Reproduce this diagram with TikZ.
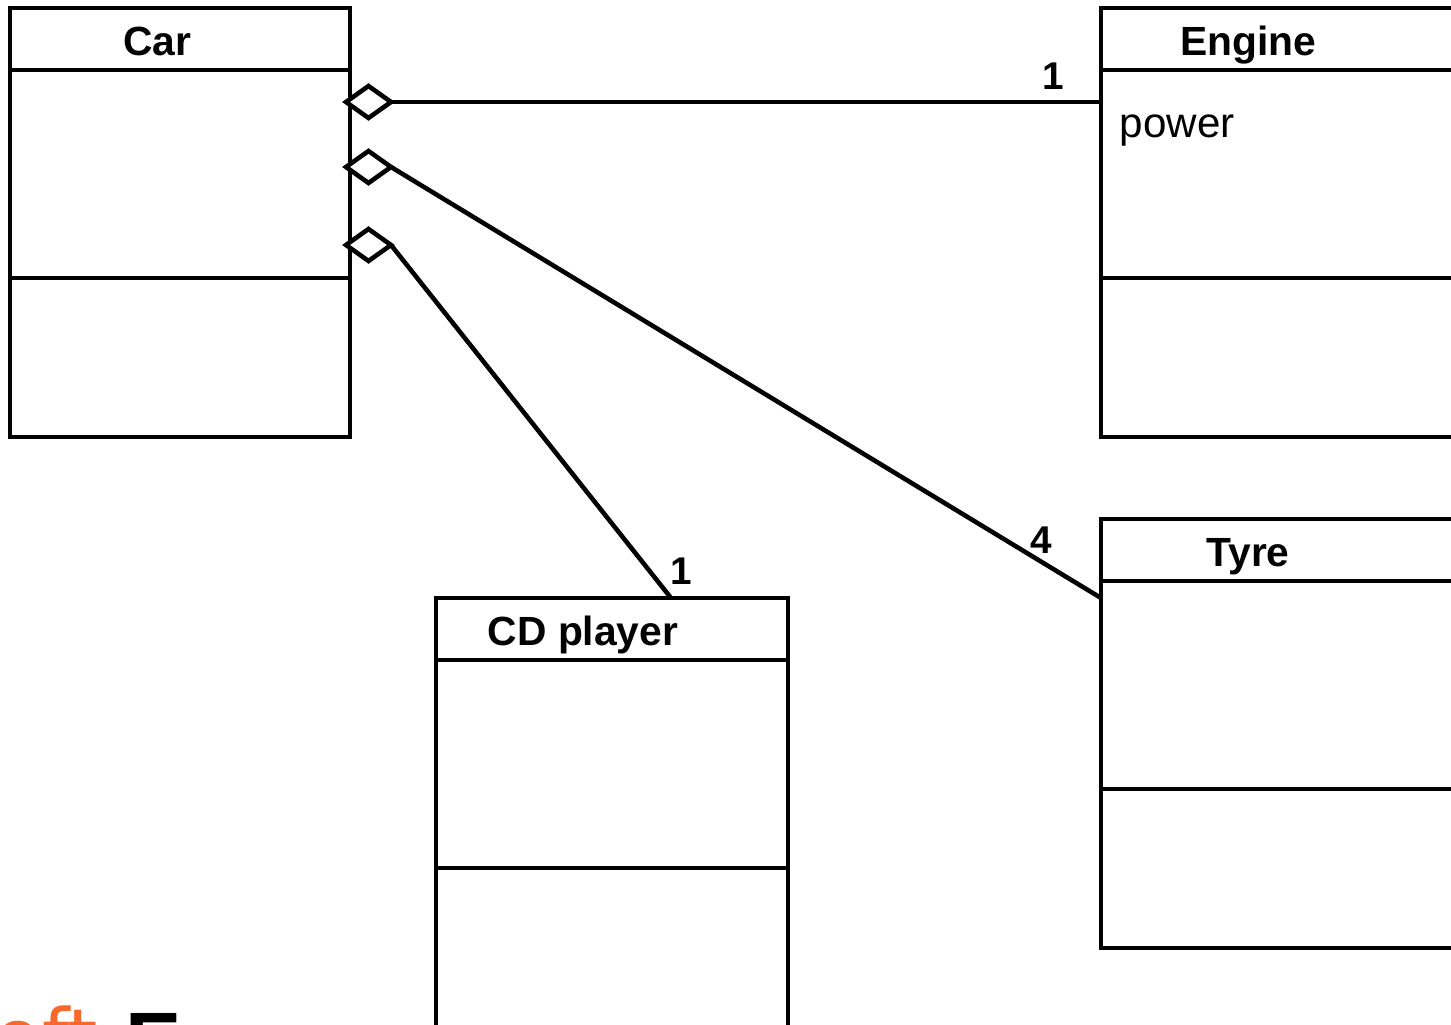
\documentclass[tikz,border=0pt]{standalone}
\usepackage{fontspec}
\setmainfont{Liberation Sans}
\newfontfamily\wmfont{DejaVu Sans}
\usetikzlibrary{positioning,shapes,calc}
\definecolor{wmorange}{RGB}{247,104,44}

\begin{document}
\begin{tikzpicture}[
  classbox/.style={draw, line width=1.1pt, minimum height=4.29cm, inner sep=0pt, outer sep=0pt},
  classtitle/.style={anchor=base, font=\bfseries\fontsize{11.6}{13}\selectfont},
  aggdiamond/.style={draw, fill=white, shape=diamond, line width=1.3pt, minimum width=0.45cm, minimum height=0.32cm, inner sep=0pt, outer sep=0pt},
  link/.style={line width=1.3pt},
  mult/.style={font=\bfseries\fontsize{11}{13}\selectfont, inner sep=0pt}
]
 \useasboundingbox (0,0) rectangle (14.51,10.24);

 %classes
 \foreach \name/\title/\x/\y/\w in {car/Car/0.10/10.16/3.40, engine/Engine/11.01/10.16/3.70, tyre/Tyre/11.01/5.05/3.70, cd/CD player/4.36/4.26/3.52} {
   \node[classbox, minimum width=\w cm, anchor=north west] (\name) at (\x,\y) {};
   \node[classtitle] (\name-title) at ([xshift=1.47cm, yshift=-0.48cm]\name.north west) {\title};
   \draw[line width=1.1pt] ([yshift=-0.62cm]\name.north west) -- ([yshift=-0.62cm]\name.north east);
   \draw[line width=1.1pt] ([yshift=-2.70cm]\name.north west) -- ([yshift=-2.70cm]\name.north east);
 }

 %attribute
 \node[anchor=base west, font=\fontsize{12}{14}\selectfont, inner sep=0pt] (engine-power) at ([xshift=0.18cm, yshift=-1.30cm]engine.north west) {power};

 %aggregations
 \node[aggdiamond, anchor=west] (d1) at ([xshift=-0.04cm, yshift=-0.94cm]car.north east) {};
 \node[aggdiamond, anchor=west] (d2) at ([xshift=-0.04cm, yshift=-1.59cm]car.north east) {};
 \node[aggdiamond, anchor=west] (d3) at ([xshift=-0.04cm, yshift=-2.37cm]car.north east) {};

 \draw[link] (d1.east) -- (d1.east -| engine.west);
 \draw[link] (d2.east) -- ([yshift=-0.79cm]tyre.north west);
 \draw[link] (d3.east) -- ([xshift=2.35cm]cd.north west);

 %multiplicities
 \node[mult] (m-engine) at ([xshift=-0.48cm, yshift=-0.68cm]engine.north west) {1};
 \node[mult] (m-tyre) at ([xshift=-0.60cm, yshift=-0.21cm]tyre.north west) {4};
 \node[mult] (m-cd) at ([xshift=2.45cm, yshift=0.27cm]cd.north west) {1};

 %cut off text at the bottom
 \node[anchor=base west, inner sep=0pt, text=wmorange, font=\wmfont\fontsize{22}{24}\selectfont] (wm-a) at (-0.06,-0.40) {oft};
 \node[anchor=base west, inner sep=0pt, font=\bfseries\fontsize{24}{26}\selectfont] (wm-b) at (1.25,-0.48) {E};

\end{tikzpicture}
\end{document}
